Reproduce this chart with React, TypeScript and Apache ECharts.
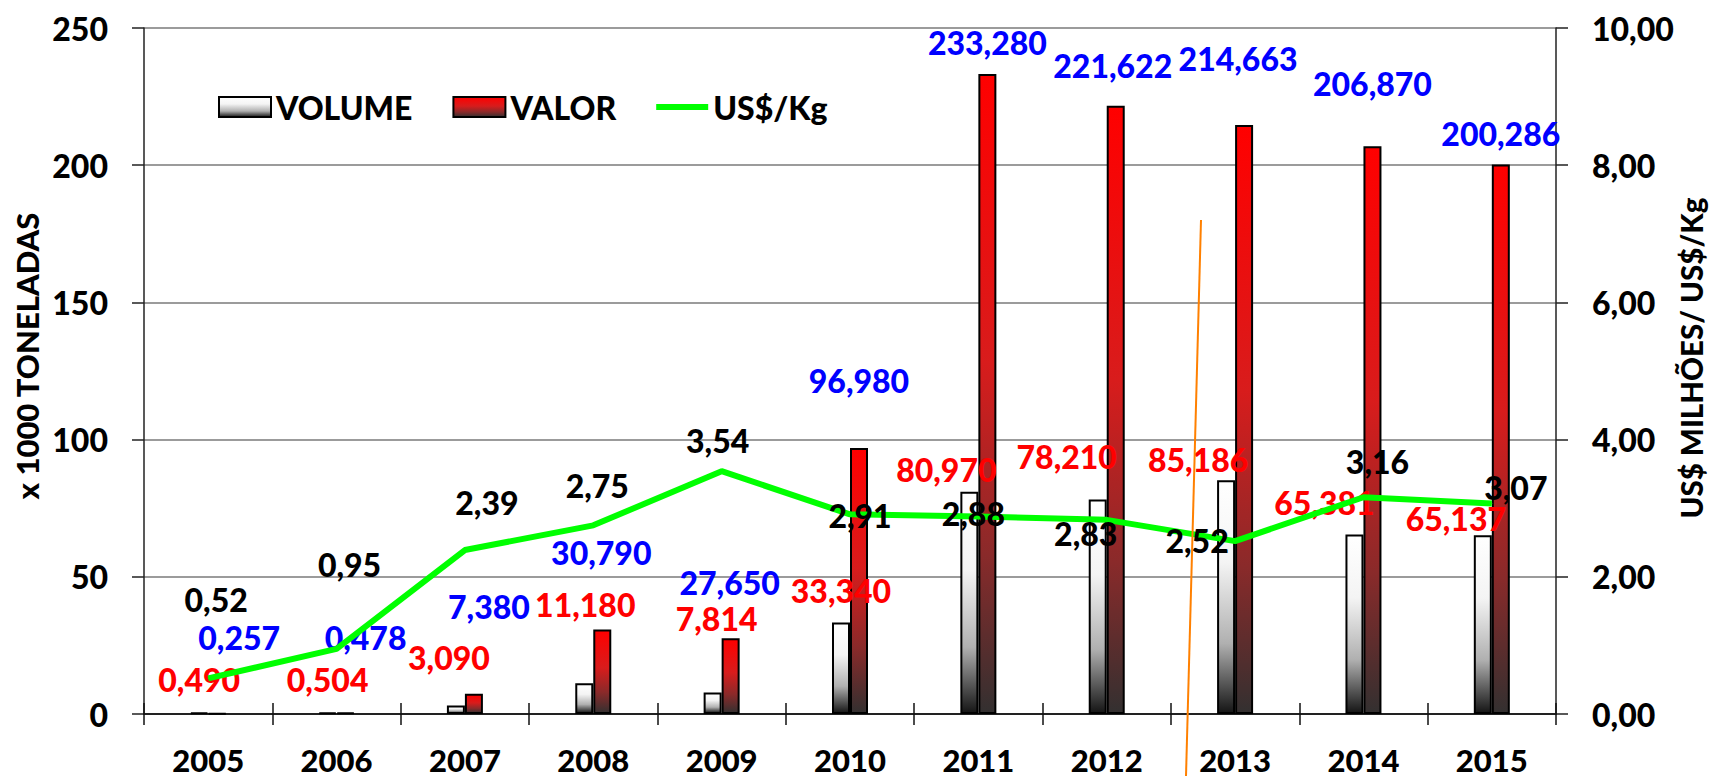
import React, { useEffect, useRef } from 'react';
import * as echarts from 'echarts';

// ---- data ----
const years = ['2005', '2006', '2007', '2008', '2009', '2010', '2011', '2012', '2013', '2014', '2015'];
const volume = [0.49, 0.504, 3.09, 11.18, 7.814, 33.34, 80.97, 78.21, 85.186, 65.381, 65.137];
const valor = [0.257, 0.478, 7.38, 30.79, 27.65, 96.98, 233.28, 221.622, 214.663, 206.87, 200.286];
const usdKg = [0.52, 0.95, 2.39, 2.75, 3.54, 2.91, 2.88, 2.83, 2.52, 3.16, 3.07];
const leftTicks = { min: 0, max: 250, interval: 50 };
const rightTicks = { min: 0, max: 10, interval: 2 };
const seriesNames = ['VOLUME', 'VALOR', 'US$/Kg'];
const leftTitle = 'x 1000 TONELADAS';
const rightTitle = 'US$ MILHÕES/ US$/Kg';

// ---- label placement (layout only) ----
const volumeLabelOffsets = [[0, -18], [0, -18], [-7, -33], [1, -64], [4, -59], [0, -17], [-23, -7], [-31, -28], [-28, -6], [-30, -17], [-27, -2]];
const valorLabelOffsets = [[22, -60], [20, -60], [15, -72], [-1, -62], [-1, -41], [0, -52], [0, -16], [-3, -25], [-6, -51], [0, -48], [0, -16]];
const usdLabelOffsets = [[8, -79], [13, -84], [22, -48], [4, -40], [-4, -31], [10, 1], [-5, -3], [-21, 14], [-38, -1], [14, -36], [24, -16]];

const FONT = 'Lato';
const W = 900;
const fmt = (v: number, d: number) => v.toFixed(d).replace('.', ',');

const App: React.FC = () => {
  const ref = useRef<HTMLDivElement>(null);
  useEffect(() => {
    document.body.style.margin = '0';
    if (!ref.current) return;
    const chart = echarts.init(ref.current, undefined, { renderer: 'svg' });

    const volGrad = new echarts.graphic.LinearGradient(0, 0, 0, 1, [
      { offset: 0, color: '#ffffff' },
      { offset: 0.35, color: '#f4f4f4' },
      { offset: 0.7, color: '#b0b0b0' },
      { offset: 1, color: '#151515' },
    ]);
    const valGrad = new echarts.graphic.LinearGradient(0, 0, 0, 1, [
      { offset: 0, color: '#ff0000' },
      { offset: 0.45, color: '#d81c1c' },
      { offset: 0.75, color: '#8a2a2a' },
      { offset: 1, color: '#333030' },
    ]);

    const labelBase = {
      show: true,
      fontFamily: FONT,
      fontSize: 32,
      fontWeight: W,
      lineHeight: 30,
    };

    chart.setOption({
      animation: false,
      textStyle: { fontFamily: FONT },
      grid: { left: 144, right: 158, top: 28, bottom: 62 },
      legend: {
        left: 213,
        top: 86,
        itemWidth: 52,
        itemHeight: 20,
        itemGap: 40,
        textStyle: { fontFamily: FONT, fontSize: 32, fontWeight: W, color: '#000', lineHeight: 32 },
        data: [
          { name: seriesNames[0], icon: 'rect' },
          { name: seriesNames[1], icon: 'rect' },
          { name: seriesNames[2], icon: 'path://M0,0h52v6h-52z' },
        ],
      },
      xAxis: [
        {
          type: 'category',
          data: years,
          axisLine: { lineStyle: { color: '#222', width: 2 } },
          axisTick: { show: true, length: 11, lineStyle: { color: '#111', width: 1.5 } },
          axisLabel: { fontFamily: FONT, fontSize: 31, fontWeight: W, color: '#000', margin: 36, lineHeight: 20 },
        },
        {
          type: 'category',
          data: years,
          position: 'bottom',
          axisLine: { show: false },
          axisTick: { show: true, inside: true, length: 11, lineStyle: { color: '#111', width: 1.5 } },
          axisLabel: { show: false },
        },
      ],
      yAxis: [
        {
          type: 'value',
          min: leftTicks.min,
          max: leftTicks.max,
          interval: leftTicks.interval,
          axisLine: { show: true, lineStyle: { color: '#222', width: 1.5 } },
          axisTick: { show: true, length: 12, lineStyle: { color: '#222', width: 1.5 } },
          splitLine: { lineStyle: { color: '#7a7a7a', width: 1.5 } },
          axisLabel: { fontFamily: FONT, fontSize: 32, fontWeight: W, color: '#000', margin: 36 },
        },
        {
          type: 'value',
          position: 'right',
          min: rightTicks.min,
          max: rightTicks.max,
          interval: rightTicks.interval,
          axisLine: { show: true, lineStyle: { color: '#222', width: 1.5 } },
          axisTick: { show: true, length: 12, lineStyle: { color: '#222', width: 1.5 } },
          splitLine: { show: false },
          axisLabel: {
            fontFamily: FONT, fontSize: 32, fontWeight: W, color: '#000', margin: 36,
            formatter: (v: number) => fmt(v, 2),
          },
        },
      ],
      series: [
        {
          name: seriesNames[0],
          type: 'bar',
          yAxisIndex: 0,
          barWidth: 18,
          barGap: '0%',
          itemStyle: { color: volGrad, borderColor: '#000', borderWidth: 2 },
          label: { ...labelBase, color: '#ff0000', position: 'top', distance: 0, formatter: (p: any) => fmt(p.value, 3) },
          data: volume.map((v, i) => ({ value: v, label: { offset: volumeLabelOffsets[i] } })),
          z: 2,
        },
        {
          name: seriesNames[1],
          type: 'bar',
          yAxisIndex: 0,
          barWidth: 18,
          barGap: '0%',
          itemStyle: { color: valGrad, borderColor: '#000', borderWidth: 2 },
          label: { ...labelBase, color: '#0000ff', position: 'top', distance: 0, formatter: (p: any) => fmt(p.value, 3) },
          data: valor.map((v, i) => ({ value: v, label: { offset: valorLabelOffsets[i] } })),
          z: 2,
        },
        {
          name: seriesNames[2],
          type: 'line',
          yAxisIndex: 1,
          symbol: 'circle',
          symbolSize: 1,
          showSymbol: true,
          color: '#00ff00',
          lineStyle: { color: '#00ff00', width: 6 },
          itemStyle: { color: '#00ff00' },
          label: { ...labelBase, color: '#000', position: 'inside', formatter: (p: any) => fmt(p.value, 2) },
          data: usdKg.map((v, i) => ({ value: v, label: { offset: usdLabelOffsets[i] } })),
          z: 3,
        },
      ],
      graphic: [
        {
          type: 'text',
          x: 27,
          y: 356,
          rotation: Math.PI / 2,
          style: { text: leftTitle, fontFamily: FONT, fontSize: 31, fontWeight: W, fill: '#000', align: 'center', verticalAlign: 'middle' },
        },
        {
          type: 'text',
          x: 1691,
          y: 358,
          rotation: Math.PI / 2,
          style: { text: rightTitle, fontFamily: FONT, fontSize: 29.5, fontWeight: W, fill: '#000', align: 'center', verticalAlign: 'middle' },
        },
        {
          type: 'line',
          shape: { x1: 1201, y1: 220, x2: 1186, y2: 776 },
          style: { stroke: '#ff8000', lineWidth: 2 },
          z: 10,
        },
      ],
    });
    return () => chart.dispose();
  }, []);
  return <div ref={ref} style={{ position: 'absolute', left: 0, top: 0, width: 1714, height: 776 }} />;
};

export default App;
